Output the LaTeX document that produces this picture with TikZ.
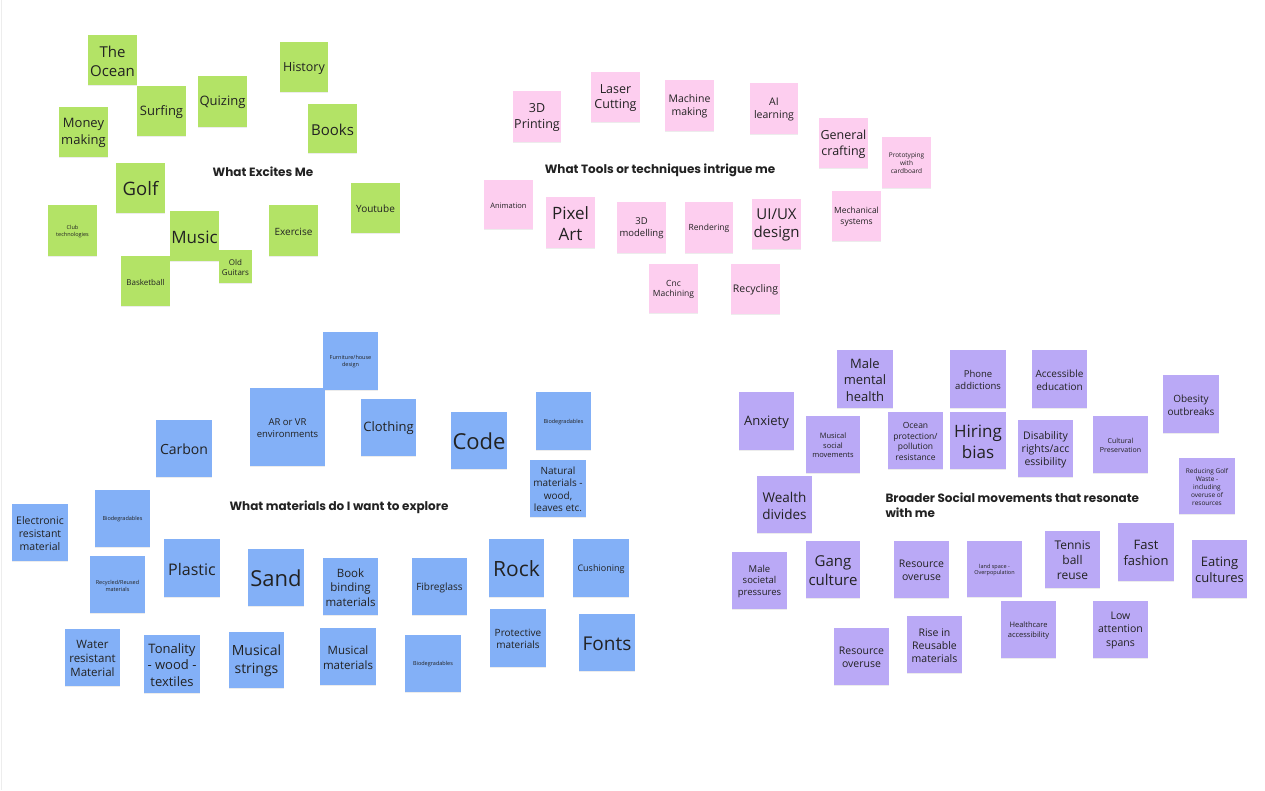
\documentclass[tikz,border=0pt]{standalone}
\usepackage{fontspec}
\setmainfont{Open Sans}
\newfontfamily\titlefont{Poppins}
\usetikzlibrary{shadows}
\definecolor{sgreen}{HTML}{B3E366}
\definecolor{spink}{HTML}{FDCEEF}
\definecolor{sblue}{HTML}{83B0F7}
\definecolor{spurple}{HTML}{BAA9F6}
\definecolor{ink}{HTML}{222222}
\tikzset{
  stk/.style={draw=none, inner sep=0pt,
    drop shadow={opacity=0.15, shadow xshift=0pt, shadow yshift=-1.2pt}},
  stktext/.style={inner sep=1pt, align=center, text=ink, yshift=-1pt},
  boardtitle/.style={font=\titlefont\bfseries\fontsize{12}{15}\selectfont, text=ink}
}
\newcommand\stk[8]{%
  \pgfmathsetmacro\stkcx{(#2+#4)/2}%
  \pgfmathsetmacro\stkcy{(#3+#5)/2}%
  \pgfmathsetmacro\stkw{#4-#2}%
  \pgfmathsetmacro\stkh{#5-#3}%
  \pgfmathsetmacro\stkls{#7*1.25}%
  \node[stk, fill=#6, minimum width=\stkw pt, minimum height=\stkh pt,
    label={[stktext, font=\fontsize{#7}{\stkls}\selectfont]center:{#8}}] (#1) at (\stkcx,\stkcy) {};}
\begin{document}
\begin{tikzpicture}[x=1pt,y=-1pt]
\fill[white] (0,0) rectangle (1265,790);
\useasboundingbox (0,0) rectangle (1265,790);
\draw[black!7, line width=1pt] (1.5,0) -- (1.5,790);
% titles
\node[boardtitle] (t1) at (263,172) {What Excites Me};
\node[boardtitle] (t2) at (660,170) {What Tools or techniques intrigue me};
\node[boardtitle] (t3) at (339,507) {What materials do I want to explore};
\node[boardtitle, align=left, anchor=west] (t4) at (882,505.5) {Broader Social movements that resonate\\with me};
% green
\stk{ocean}{88}{35}{137}{85}{sgreen}{15}{The\\Ocean}
\stk{surf}{137}{86}{186}{136}{sgreen}{13}{Surfing}
\stk{quiz}{198}{76}{247}{127}{sgreen}{13}{Quizing}
\stk{hist}{280}{42}{328}{92}{sgreen}{12.5}{History}
\stk{money}{59}{107}{108}{157}{sgreen}{13}{Money\\making}
\stk{books}{308}{104}{357}{153}{sgreen}{15}{Books}
\stk{golf}{116}{163}{165}{213}{sgreen}{18.5}{Golf}
\stk{club}{48}{205}{97}{256}{sgreen}{5.5}{Club\\technologies}
\stk{music}{170}{211}{219}{261}{sgreen}{17}{Music}
\stk{bask}{121}{256}{170}{306}{sgreen}{8}{Basketball}
\stk{oldg}{219}{250}{252}{283}{sgreen}{8}{Old\\Guitars}
\stk{exer}{269}{205}{318}{256}{sgreen}{10}{Exercise}
\stk{yt}{351}{183}{400}{233}{sgreen}{10}{Youtube}
% pink
\stk{print}{513}{91}{561}{142}{spink}{12.5}{3D\\Printing}
\stk{laser}{591}{72}{640}{122}{spink}{12.5}{Laser\\Cutting}
\stk{mach}{665}{80}{714}{131}{spink}{10.5}{Machine\\making}
\stk{ai}{750}{83}{798}{134}{spink}{10.5}{AI\\learning}
\stk{gen}{819}{118}{868}{168}{spink}{12.5}{General\\crafting}
\stk{proto}{882}{137}{931}{188}{spink}{6.5}{Prototyping\\with\\cardboard}
\stk{anim}{484}{180}{533}{229}{spink}{7.5}{Animation}
\stk{pixel}{546}{197}{595}{248}{spink}{17}{Pixel\\Art}
\stk{model}{617}{202}{666}{253}{spink}{9.5}{3D\\modelling}
\stk{rend}{685}{202}{733}{253}{spink}{8.5}{Rendering}
\stk{uiux}{752}{199}{801}{249}{spink}{15}{UI/UX\\design}
\stk{mech}{832}{191}{881}{241}{spink}{8.5}{Mechanical\\systems}
\stk{cnc}{649}{264}{698}{313}{spink}{8.5}{Cnc\\Machining}
\stk{recy}{731}{264}{780}{314}{spink}{10.5}{Recycling}
% blue
\stk{furn}{323}{332}{378}{390}{sblue}{5.5}{Furniture/house\\design}
\stk{arvr}{250}{388}{325}{466}{sblue}{9.5}{AR or VR\\environments}
\stk{carbon}{156}{420}{212}{477}{sblue}{14}{Carbon}
\stk{cloth}{361}{399}{416}{456}{sblue}{13}{Clothing}
\stk{code}{451}{412}{507}{469}{sblue}{22}{Code}
\stk{biot}{536}{392}{591}{450}{sblue}{5.5}{Biodegradables}
\stk{nat}{530}{460}{586}{517}{sblue}{10}{Natural\\materials -\\wood,\\leaves etc.}
\stk{elec}{12}{504}{68}{561}{sblue}{10.5}{Electronic\\resistant\\material}
\stk{biol}{95}{490}{150}{547}{sblue}{5.5}{Biodegradables}
\stk{recyc}{90}{556}{145}{613}{sblue}{5.5}{Recycled/Reused\\materials}
\stk{plastic}{164}{539}{220}{597}{sblue}{16}{Plastic}
\stk{sand}{248}{549}{304}{606}{sblue}{22}{Sand}
\stk{book}{323}{558}{378}{615}{sblue}{11.5}{Book\\binding\\materials}
\stk{fibre}{412}{558}{467}{615}{sblue}{10}{Fibreglass}
\stk{rock}{489}{539}{544}{597}{sblue}{21}{Rock}
\stk{cush}{573}{539}{629}{597}{sblue}{9}{Cushioning}
\stk{water}{65}{629}{120}{686}{sblue}{11.5}{Water\\resistant\\Material}
\stk{tonal}{144}{635}{200}{693}{sblue}{13}{Tonality\\- wood -\\textiles}
\stk{mstr}{229}{632}{284}{688}{sblue}{14}{Musical\\strings}
\stk{mmat}{320}{628}{376}{685}{sblue}{11.5}{Musical\\materials}
\stk{biob}{405}{635}{461}{692}{sblue}{5.5}{Biodegradables}
\stk{prot}{490}{609}{546}{667}{sblue}{10}{Protective\\materials}
\stk{fonts}{579}{614}{635}{671}{sblue}{19}{Fonts}
% purple
\stk{mmh}{837}{350}{893}{408}{spurple}{13}{Male\\mental\\health}
\stk{phone}{950}{350}{1006}{408}{spurple}{9.5}{Phone\\addictions}
\stk{acc}{1032}{350}{1087}{408}{spurple}{10}{Accessible\\education}
\stk{obes}{1163}{375}{1219}{433}{spurple}{10}{Obesity\\outbreaks}
\stk{anx}{739}{392}{794}{450}{spurple}{13}{Anxiety}
\stk{msm}{806}{416}{860}{473}{spurple}{7.5}{Musical\\social\\movements}
\stk{ocp}{888}{412}{943}{469}{spurple}{8.5}{Ocean\\protection/\\pollution\\resistance}
\stk{hire}{950}{412}{1006}{469}{spurple}{17}{Hiring\\bias}
\stk{dis}{1018}{420}{1073}{477}{spurple}{10.5}{Disability\\rights/acc\\essibility}
\stk{cult}{1093}{416}{1148}{473}{spurple}{7}{Cultural\\Preservation}
\stk{golfw}{1179}{458}{1235}{514}{spurple}{6.5}{Reducing Golf\\Waste -\\including\\overuse of\\resources}
\stk{wealth}{757}{476}{812}{533}{spurple}{13.5}{Wealth\\divides}
\stk{msp}{732}{552}{787}{609}{spurple}{9.5}{Male\\societal\\pressures}
\stk{gang}{806}{541}{860}{598}{spurple}{15}{Gang\\culture}
\stk{res1}{894}{541}{949}{598}{spurple}{10.5}{Resource\\overuse}
\stk{land}{967}{541}{1022}{597}{spurple}{5.5}{land space -\\Overpopulation}
\stk{tennis}{1045}{531}{1100}{588}{spurple}{12}{Tennis\\ball\\reuse}
\stk{fast}{1118}{523}{1174}{581}{spurple}{13}{Fast\\fashion}
\stk{eat}{1192}{540}{1247}{598}{spurple}{13}{Eating\\cultures}
\stk{res2}{834}{628}{889}{685}{spurple}{10.5}{Resource\\overuse}
\stk{rise}{907}{616}{962}{673}{spurple}{10.5}{Rise in\\Reusable\\materials}
\stk{health}{1001}{601}{1056}{658}{spurple}{7.5}{Healthcare\\accessibility}
\stk{low}{1093}{601}{1148}{658}{spurple}{10.5}{Low\\attention\\spans}
\end{tikzpicture}
\end{document}
